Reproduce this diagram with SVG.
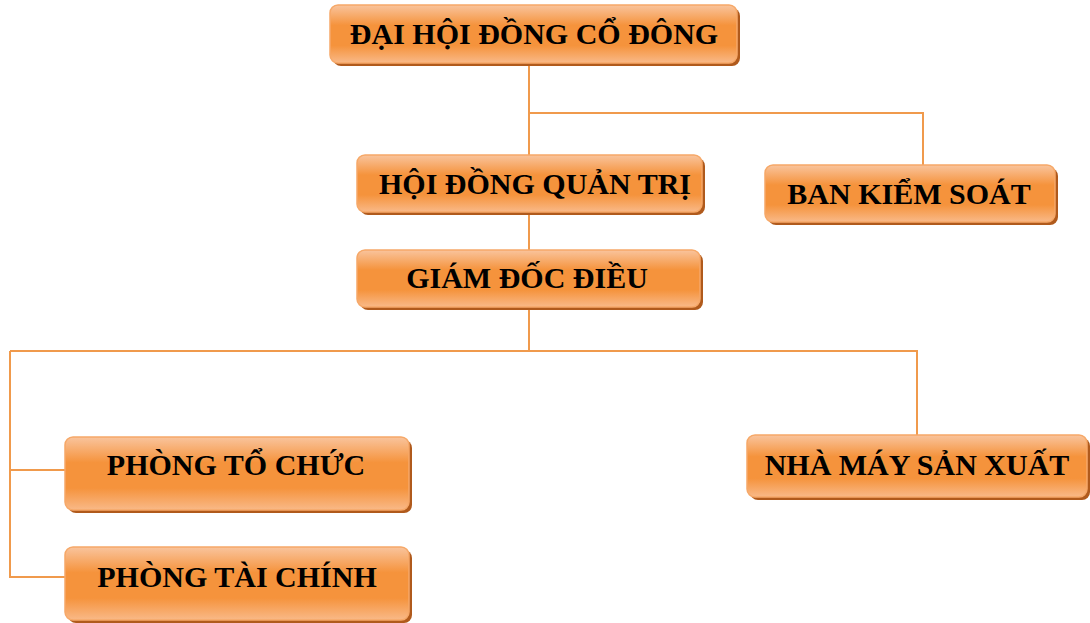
<svg xmlns="http://www.w3.org/2000/svg" width="1090" height="623" viewBox="0 0 1090 623">
<style>
.box{fill:url(#g);stroke:#F6A868;stroke-width:1.5}
.sh{fill:#B05A1C}
.t{font-family:"Liberation Serif","Times New Roman",serif;font-weight:bold;font-size:30px;fill:#000;text-anchor:middle}
.c{fill:none;stroke:#F09A4C;stroke-width:2}
</style>
<defs>
<linearGradient id="g" x1="0" y1="0" x2="0" y2="1">
<stop offset="0" stop-color="#F9C49D"/>
<stop offset="0.35" stop-color="#F5933C"/>
<stop offset="0.7" stop-color="#F5933C"/>
<stop offset="1" stop-color="#F9B988"/>
</linearGradient>
</defs>
<g id="connectors">
<path class="c" d="M529 63 V155 M529 113 H923 V165 M529 212 V250 M529 307 V351 M10 351 H917 V435 M10 351 V577 H65 M10 470 H65"/>
</g>
<g id="n1"><rect class="sh" x="333" y="8" width="407" height="58" rx="8"/><rect class="box" x="330" y="5" width="407" height="58" rx="8"/><text class="t" x="534" y="44">ĐẠI HỘI ĐỒNG CỔ ĐÔNG</text></g>
<g id="n2"><rect class="sh" x="360" y="158" width="345" height="57" rx="8"/><rect class="box" x="357" y="155" width="345" height="57" rx="8"/><text class="t" x="535" y="194">HỘI ĐỒNG QUẢN TRỊ</text></g>
<g id="n3"><rect class="sh" x="360" y="253" width="343" height="57" rx="8"/><rect class="box" x="357" y="250" width="343" height="57" rx="8"/><text class="t" x="527" y="288">GIÁM ĐỐC ĐIỀU</text></g>
<g id="n4"><rect class="sh" x="768" y="168" width="290" height="57" rx="8"/><rect class="box" x="765" y="165" width="290" height="57" rx="8"/><text class="t" x="909" y="204">BAN KIỂM SOÁT</text></g>
<g id="n5"><rect class="sh" x="750" y="438" width="340" height="62" rx="8"/><rect class="box" x="747" y="435" width="340" height="62" rx="8"/><text class="t" x="917" y="475">NHÀ MÁY SẢN XUẤT</text></g>
<g id="n6"><rect class="sh" x="68" y="440" width="344" height="73" rx="8"/><rect class="box" x="65" y="437" width="344" height="73" rx="8"/><text class="t" x="236" y="475">PHÒNG TỔ CHỨC</text></g>
<g id="n7"><rect class="sh" x="68" y="550" width="344" height="73" rx="8"/><rect class="box" x="65" y="547" width="344" height="73" rx="8"/><text class="t" x="237" y="587">PHÒNG TÀI CHÍNH</text></g>
</svg>
